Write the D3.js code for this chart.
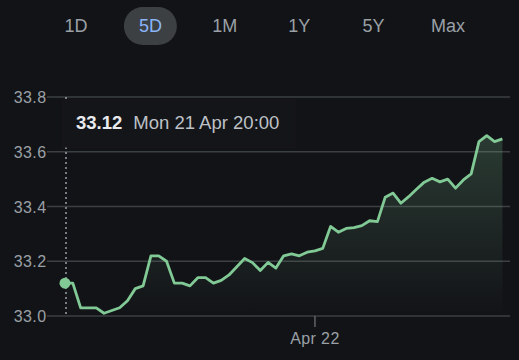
<!DOCTYPE html>
<html>
<head>
<meta charset="utf-8">
<script src="https://cdn.jsdelivr.net/npm/d3@7"></script>
<style>
  html, body { margin: 0; padding: 0; background: #121317; }
  svg { display: block; }
</style>
</head>
<body>
<svg id="chart" width="519" height="360"></svg>
<script>
const ranges = ["1D", "5D", "1M", "1Y", "5Y", "Max"];
const activeRange = "5D";
const prices = [
  33.12, 33.12, 33.03, 33.03, 33.03, 33.01, 33.02, 33.03, 33.056, 33.10,
  33.11, 33.22, 33.22, 33.20, 33.12, 33.12, 33.11, 33.14, 33.14, 33.12,
  33.13, 33.15, 33.18, 33.21, 33.195, 33.166, 33.196, 33.175, 33.22, 33.227,
  33.22, 33.233, 33.238, 33.247, 33.327, 33.306, 33.32, 33.323, 33.33, 33.348,
  33.345, 33.434, 33.449, 33.412, 33.436, 33.463, 33.489, 33.503, 33.49, 33.50,
  33.467, 33.497, 33.519, 33.637, 33.659, 33.637, 33.647
];
const yTicks = [33.0, 33.2, 33.4, 33.6, 33.8];
const xTickIndex = [32];
const xTickLabels = ["Apr 22"];
const hoverIndex = 0;
const hoverLabel = "Mon 21 Apr 20:00";

const svg = d3.select("#chart");
const font = "'Liberation Sans', Arial, sans-serif";

// Range buttons
const btnX = d3.scalePoint().domain(ranges).range([76, 448]);
const btns = svg.append("g");
btns.append("rect")
  .attr("x", btnX(activeRange) - 26.5).attr("y", 7)
  .attr("width", 53).attr("height", 38).attr("rx", 19)
  .attr("fill", "#3c4043");
btns.selectAll("text").data(ranges).join("text")
  .attr("x", d => btnX(d)).attr("y", 32)
  .attr("text-anchor", "middle")
  .attr("font-family", font).attr("font-size", 18)
  .attr("fill", d => d === activeRange ? "#8ab4f8" : "#9aa0a6")
  .text(d => d);

// Scales
const x = d3.scaleLinear().domain([0, prices.length - 1]).range([65, 502.4]);
const y = d3.scaleLinear().domain([33.0, 33.8]).range([316, 97]);

// Grid
svg.append("g").selectAll("line").data(yTicks).join("line")
  .attr("x1", 47).attr("x2", 510)
  .attr("y1", d => y(d)).attr("y2", d => y(d))
  .attr("stroke", "#3c4043").attr("stroke-width", 1.5);

// Y labels
svg.append("g").selectAll("text").data(yTicks).join("text")
  .attr("x", 46.5).attr("y", d => y(d) + 6)
  .attr("text-anchor", "end")
  .attr("font-family", font).attr("font-size", 16)
  .attr("letter-spacing", 0.4)
  .attr("fill", "#9aa0a6")
  .text(d => d.toFixed(1));

// X axis tick
const xt = svg.append("g");
xt.selectAll("line").data(xTickIndex).join("line")
  .attr("x1", d => x(d)).attr("x2", d => x(d))
  .attr("y1", 316).attr("y2", 327)
  .attr("stroke", "#5f6368").attr("stroke-width", 1.5);
xt.selectAll("text").data(xTickIndex).join("text")
  .attr("x", d => x(d)).attr("y", 343.5)
  .attr("text-anchor", "middle")
  .attr("font-family", font).attr("font-size", 16)
  .attr("letter-spacing", 0.4)
  .attr("fill", "#9aa0a6")
  .text((d, i) => xTickLabels[i]);

// Area gradient
const defs = svg.append("defs");
const grad = defs.append("linearGradient").attr("id", "fillGrad")
  .attr("gradientUnits", "userSpaceOnUse")
  .attr("x1", 0).attr("x2", 0).attr("y1", y(d3.max(prices))).attr("y2", 316);
grad.append("stop").attr("offset", 0).attr("stop-color", "#81c995").attr("stop-opacity", 0.22);
grad.append("stop").attr("offset", 1).attr("stop-color", "#81c995").attr("stop-opacity", 0.0);

const area = d3.area()
  .x((d, i) => x(i)).y0(316).y1(d => y(d));
svg.append("path").datum(prices)
  .attr("d", area).attr("fill", "url(#fillGrad)");

// Dashed hover line
svg.append("line")
  .attr("x1", x(hoverIndex) + 1).attr("x2", x(hoverIndex) + 1)
  .attr("y1", 97).attr("y2", 316)
  .attr("stroke", "#9aa0a6").attr("stroke-width", 1.5)
  .attr("stroke-dasharray", "2,3");

// Line
const line = d3.line().x((d, i) => x(i)).y(d => y(d));
svg.append("path").datum(prices)
  .attr("d", line).attr("fill", "none")
  .attr("stroke", "#81c995").attr("stroke-width", 2.8)
  .attr("stroke-linejoin", "round");

// Hover dot
svg.append("circle")
  .attr("cx", x(hoverIndex)).attr("cy", y(prices[hoverIndex]))
  .attr("r", 5.5).attr("fill", "#81c995");

// Tooltip
const tip = svg.append("g");
tip.append("rect")
  .attr("x", 63).attr("y", 100).attr("width", 232).attr("height", 47)
  .attr("fill", "#141519").attr("stroke", "#18191d");
const tt = tip.append("text")
  .attr("x", 76).attr("y", 129)
  .attr("font-family", font).attr("font-size", 18.5);
tt.append("tspan").attr("fill", "#e8eaed").attr("font-weight", 700)
  .text(prices[hoverIndex].toFixed(2));
tt.append("tspan").attr("dx", 11).attr("fill", "#bdc1c6")
  .text(hoverLabel);
</script>
</body>
</html>
